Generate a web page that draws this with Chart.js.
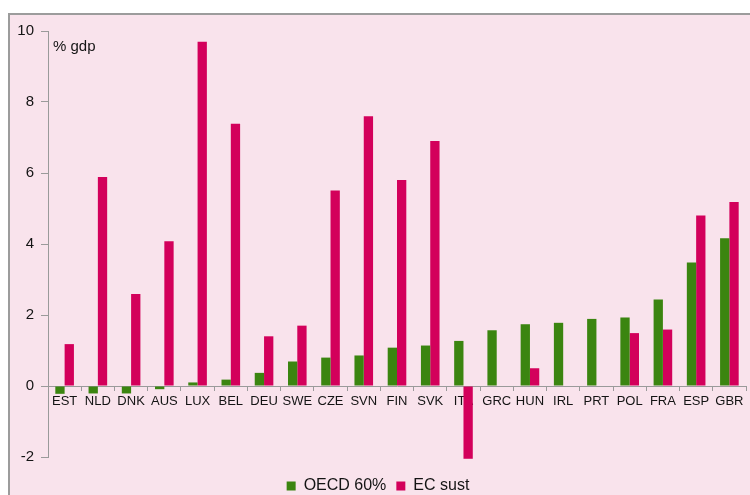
<!DOCTYPE html>
<html>
<head>
<meta charset="utf-8">
<script src="https://cdn.jsdelivr.net/npm/chart.js@4.4.1/dist/chart.umd.min.js"></script>
<style>
  html, body { margin: 0; padding: 0; width: 750px; height: 495px; overflow: hidden; background: #ffffff; }
  #frame {
    position: absolute; left: 8px; top: 13px; width: 800px; height: 600px;
    background: #f9e3ec; border-left: 2px solid #9c9c9c; border-top: 2px solid #9c9c9c;
  }
  #chart { position: absolute; left: 10px; top: 15px; }
</style>
</head>
<body>
<div id="frame"></div>
<canvas id="chart" width="754" height="480"></canvas>
<script>
// Countries, ordered by the OECD 60% measure
const countries = ['EST','NLD','DNK','AUS','LUX','BEL','DEU','SWE','CZE','SVN','FIN','SVK','ITA','GRC','HUN','IRL','PRT','POL','FRA','ESP','GBR'];

// Required fiscal adjustment, % of GDP
const oecd60 = [-0.22, -0.21, -0.21, -0.09, 0.10, 0.18, 0.37, 0.69, 0.80, 0.86, 1.08, 1.14, 1.27, 1.57, 1.74, 1.78, 1.89, 1.93, 2.44, 3.48, 4.16];
const ecSust = [1.18, 5.89, 2.59, 4.08, 9.70, 7.39, 1.40, 1.70, 5.51, 7.60, 5.80, 6.90, -2.05, null, 0.50, null, null, 1.49, 1.59, 4.80, 5.18];

const seriesNames = ['OECD 60%', 'EC sust'];
const yTicks = [-2, 0, 2, 4, 6, 8, 10];
const unitLabel = '% gdp';

const FONT = 'Liberation Sans, Arial, sans-serif';
const INK = '#141414';
const AXIS = '#9a9a9a';

// Unit caption in the top-left corner of the plot area
const unitCaption = {
  id: 'unitCaption',
  afterDraw(chart) {
    const { ctx, chartArea, scales } = chart;
    ctx.save();
    ctx.font = '15px ' + FONT;
    ctx.fillStyle = INK;
    ctx.textBaseline = 'alphabetic';
    ctx.textAlign = 'left';
    ctx.fillText(unitLabel, chartArea.left + 5, scales.y.getPixelForValue(10) + 20);
    ctx.restore();
  }
};

// Leave a little air between the plot and the legend row
const legendGap = {
  id: 'legendGap',
  afterLayout(chart) {
    chart.legend.top += 11;
    chart.legend.bottom += 11;
  }
};

new Chart(document.getElementById('chart'), {
  type: 'bar',
  data: {
    labels: countries,
    datasets: [
      { label: seriesNames[0], data: oecd60, backgroundColor: '#3b8510', borderWidth: 0 },
      { label: seriesNames[1], data: ecSust, backgroundColor: '#d3005b', borderWidth: 0, clip: false }
    ]
  },
  options: {
    responsive: false,
    animation: false,
    devicePixelRatio: 1,
    layout: { padding: { top: 12, right: 18, bottom: 2, left: 0 } },
    datasets: { bar: { categoryPercentage: 0.56, barPercentage: 1.0 } },
    scales: {
      x: {
        position: { y: 0 },
        offset: true,
        grid: { display: true, drawOnChartArea: false, drawTicks: true, tickLength: 4, color: AXIS, offset: true },
        border: { display: true, color: AXIS, width: 1 },
        ticks: { color: INK, font: { family: FONT, size: 13 }, padding: 4, maxRotation: 0, autoSkip: false }
      },
      y: {
        min: -2,
        max: 10,
        afterFit(scale) { scale.width = 38; },
        afterBuildTicks(scale) { scale.ticks = yTicks.map(v => ({ value: v })); },
        grid: { display: true, drawOnChartArea: false, drawTicks: true, tickLength: 7, color: AXIS },
        border: { display: true, color: AXIS, width: 1 },
        ticks: { color: INK, font: { family: FONT, size: 15 }, padding: 7 }
      }
    },
    plugins: {
      legend: {
        position: 'bottom',
        labels: { boxWidth: 9, boxHeight: 9, padding: 10, color: INK, font: { family: FONT, size: 16 } }
      },
      tooltip: { enabled: false }
    }
  },
  plugins: [unitCaption, legendGap]
});
</script>
</body>
</html>
